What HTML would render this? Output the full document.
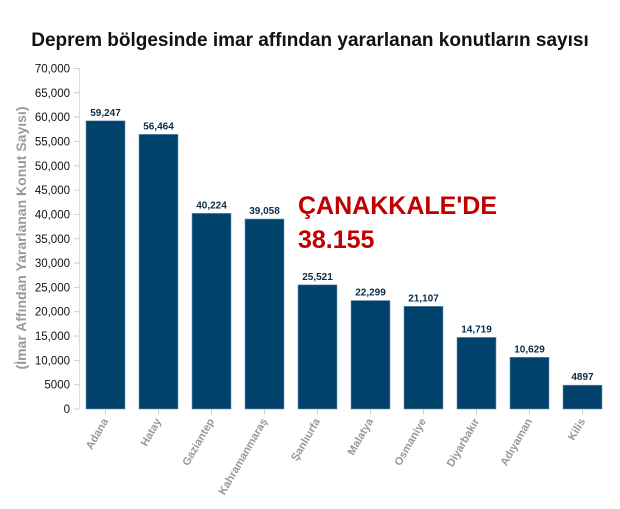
<!DOCTYPE html>
<html><head><meta charset="utf-8"><style>
body{margin:0;background:#fff;width:620px;height:504px;overflow:hidden}
svg text{font-family:"Liberation Sans","DejaVu Sans",sans-serif}
</style></head><body>
<svg id="c" width="620" height="504">
<text x="310" y="46" text-anchor="middle" font-size="19" font-weight="bold" fill="#111">Deprem bölgesinde imar affından yararlanan konutların sayısı</text>
<text transform="translate(26,238) rotate(-90)" text-anchor="middle" font-size="14" font-weight="bold" fill="#999">(İmar Affından Yararlanan Konut Sayısı)</text>
<text x="298" y="214" font-size="25" font-weight="bold" fill="#c00000">ÇANAKKALE'DE</text>
<text x="298" y="248" font-size="25" font-weight="bold" fill="#c00000">38.155</text>
</svg>
<script>
const categories=["Adana","Hatay","Gaziantep","Kahramanmaraş","Şanlıurfa","Malatya","Osmaniye","Diyarbakır","Adıyaman","Kilis"];
const values=[59247,56464,40224,39058,25521,22299,21107,14719,10629,4897];
const valueLabels=["59,247","56,464","40,224","39,058","25,521","22,299","21,107","14,719","10,629","4897"];
const yTicks=[0,5000,10000,15000,20000,25000,30000,35000,40000,45000,50000,55000,60000,65000,70000];
const yTickLabels=["0","5000","10,000","15,000","20,000","25,000","30,000","35,000","40,000","45,000","50,000","55,000","60,000","65,000","70,000"];
const NS="http://www.w3.org/2000/svg",svg=document.getElementById('c');
const y0=409,y1=68.5,yMax=70000,x0=80,step=53,bw=39;
const y=v=>y0-(v/yMax)*(y0-y1);
const x=i=>x0+6+i*step;
function mk(t,a,p){const e=document.createElementNS(NS,t);for(const k in a)e.setAttribute(k,a[k]);(p||svg).appendChild(e);return e;}
const ax=mk('line',{x1:79.5,y1:y1,x2:79.5,y2:y0,stroke:'#ddd'});


yTicks.forEach((t,i)=>{
 const l=mk('line',{x1:74,x2:79.5,y1:y(t),y2:y(t),stroke:'#ccc'});
 
 
 const tx=mk('text',{x:70,y:y(t)+4,'text-anchor':'end','font-size':11.5,fill:'#111'});
 tx.textContent=yTickLabels[i];
 
 
});
categories.forEach((c,i)=>{
 const r=mk('rect',{x:x(i),y:y(values[i]),width:bw,height:y0-y(values[i]),fill:'#00426b',stroke:'#6f97b3','stroke-width':0.6});
 
 
 const vl=mk('text',{x:x(i)+bw/2,y:y(values[i])-5,'text-anchor':'middle','font-size':10,'font-weight':'bold',fill:'#0a2d4a'});
 vl.textContent=valueLabels[i];
 
 
 const cx=x(i)+bw/2;
 const tk=mk('line',{x1:cx,x2:cx,y1:y0,y2:y0+5,stroke:'#ccc'});
 
 
 const cl=mk('text',{transform:`translate(${cx+3},${y0+12}) rotate(-60)`,'text-anchor':'end','font-size':11,'font-weight':'bold',fill:'#999'});
 cl.textContent=c;
 
 
});
</script>
</body></html>
